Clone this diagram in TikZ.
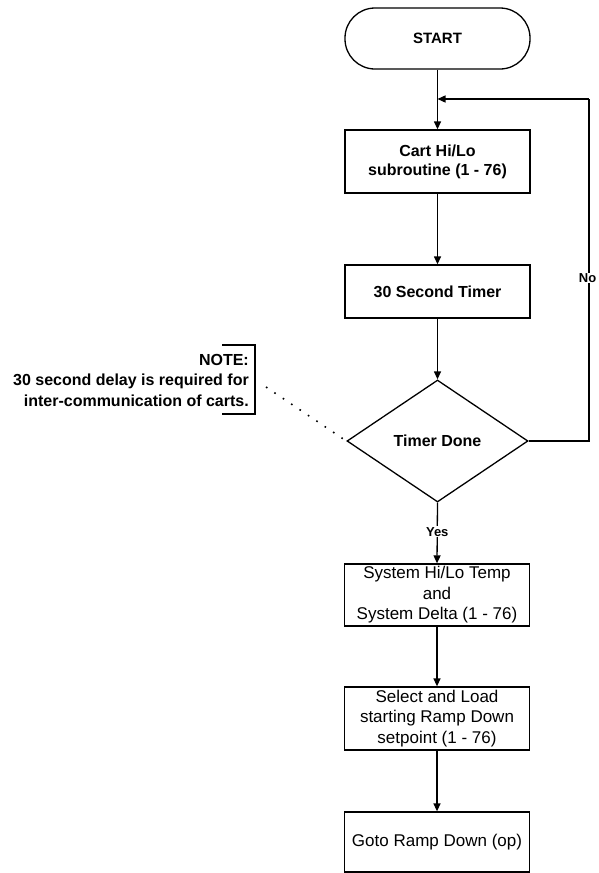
\documentclass[tikz,border=0pt]{standalone}
\usepackage{fontspec}
\setmainfont{Liberation Sans}
\usetikzlibrary{shapes.geometric,arrows.meta}
\begin{document}
\begin{tikzpicture}[x=1pt,y=-1pt,
  box/.style={draw,line width=1.3pt,minimum width=185pt,inner sep=2pt,align=center},
  upfont/.style={font=\fontsize{16}{19}\selectfont\bfseries},
  lowfont/.style={font=\fontsize{17}{20.5}\selectfont},
  arr/.style={line width=1.3pt,-{Triangle[length=8pt,width=7pt]}},
  conn/.style={line width=1.3pt},
  lbl/.style={fill=white,inner sep=1pt,font=\fontsize{13}{15}\selectfont\bfseries}]
\useasboundingbox (0,0) rectangle (598,873);
\fill[white] (0,0) rectangle (598,873);

\node[box,upfont,rounded corners=30pt,minimum height=61pt,font=\fontsize{15}{18}\selectfont\bfseries] (start) at (437.5,38.5) {START};
\node[box,upfont,minimum height=63pt] (cart) at (437.5,161.5) {Cart Hi/Lo\\subroutine (1 - 76)};
\node[box,upfont,minimum height=53pt] (timer) at (437.5,291.5) {30 Second Timer};
\node[draw,diamond,line width=1.3pt,minimum width=181pt,minimum height=122pt,inner sep=0pt,upfont] (dec) at (437.5,441) {Timer Done};
\node[box,lowfont,minimum height=62pt] (sys) at (437,595) {System Hi/Lo Temp\\and\\System Delta (1 - 76)};
\node[box,lowfont,minimum height=63pt] (sel) at (437,718.5) {Select and Load\\starting Ramp Down\\setpoint (1 - 76)};
\node[box,lowfont,minimum height=60pt] (goto) at (437,842) {Goto Ramp Down (op)};

\coordinate (join) at (437.5,99);
\coordinate (fbR) at (589,99);

\draw[arr] (start) -- (cart);
\draw[arr] (cart) -- (timer);
\draw[arr] (timer) -- (dec);
\draw[conn] (dec.east) -| (fbR);
\draw[arr] (fbR) -- (join);
\node[lbl,anchor=east,inner sep=0.5pt] (no) at (597,278) {No};
\draw[arr] (dec.south) -- (sys.north) node[lbl,pos=0.48] (yes) {Yes};
\draw[arr] (sys) -- (sel);
\draw[arr] (sel) -- (goto);

% note
\node[align=right,anchor=east,font=\fontsize{16}{20.5}\selectfont\bfseries,inner sep=0pt] (note) at (249,380) {NOTE:\\30 second delay is required for\\inter-communication of carts.};
\coordinate (bt1) at (222,345);
\coordinate (bt2) at (255,345);
\coordinate (bb2) at (255,414);
\coordinate (bb1) at (222,414);
\draw[line width=1.2pt] (bt1) -- (bt2) -- (bb2) -- (bb1);
\coordinate (noteP) at (266,387);
\draw[line width=1.6pt,dash pattern=on 1.6pt off 8.5pt] (noteP) -- (dec.west);
\end{tikzpicture}
\end{document}
